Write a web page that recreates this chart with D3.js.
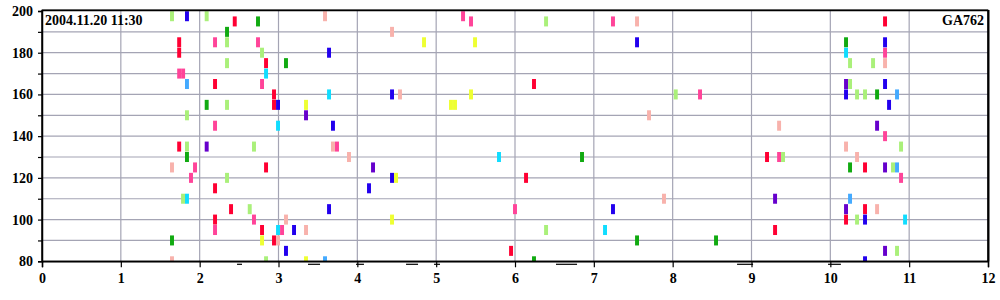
<!DOCTYPE html>
<html>
<head>
<meta charset="utf-8">
<script src="https://cdn.jsdelivr.net/npm/d3@7"></script>
<style>
html,body{margin:0;padding:0;background:#fff;}
svg{display:block;}
.axis text{font-family:"Liberation Serif","Times New Roman",serif;font-weight:bold;font-size:14px;fill:#000;}
</style>
</head>
<body>
<svg id="chart" width="1000" height="300"></svg>
<script>
// ---- data ----
const titleLeft = "2004.11.20 11:30";
const titleRight = "GA762";
const xTicks = [0,1,2,3,4,5,6,7,8,9,10,11,12];
const yTicks = [80,90,100,110,120,130,140,150,160,170,180,190,200];
const yLabels = [80,100,120,140,160,180,200];

const seriesNames = ["red","pink","salmon","lightgreen","green","blue","purple","cyan","skyblue","yellow"];
const seriesColors = ["#ff0033","#ff4499","#f8b2ac","#aaf07a","#11aa11","#2200ee","#6600cc","#11ddff","#44aaff","#eeff33"];

const red = [[1.74,185],[1.74,180],[1.74,135],[2.195,165],[2.195,115],[2.195,100],[2.445,195],[2.398,105],[2.842,175],[2.943,160],[2.943,155],[2.842,125],[2.791,95],[2.943,90],[6.241,165],[6.14,120],[5.95,85],[10.694,195],[9.197,130],[10.44,125],[10.199,100],[10.44,105],[9.299,95]];
const pink = [[1.74,170],[1.79,170],[1.941,125],[1.89,120],[2.195,185],[2.195,145],[2.195,95],[2.74,185],[2.791,165],[3.742,135],[2.689,100],[3.045,95],[5.341,197.5],[5.442,195],[7.243,195],[8.347,160],[6.0,105],[10.694,180],[10.694,140],[9.35,130],[10.897,120]];
const salmon = [[1.649,125],[1.649,80],[3.59,197.5],[4.44,190],[4.541,160],[3.691,135],[3.894,130],[3.095,100],[3.349,95],[2.994,90],[7.548,195],[7.7,150],[7.89,110],[10.694,175],[9.35,145],[10.199,135],[10.339,130],[10.593,105]];
const lightgreen = [[1.649,197.5],[1.839,150],[1.839,135],[1.789,110],[2.089,197.5],[2.347,185],[2.347,175],[2.347,155],[2.347,120],[2.635,105],[2.791,180],[2.689,135],[2.842,80],[6.394,195],[8.039,160],[6.394,95],[10.25,175],[10.542,175],[10.25,165],[10.339,160],[10.44,160],[10.897,135],[9.4,130],[10.795,125],[10.339,100],[10.846,85]];
const green = [[1.649,90],[1.839,130],[2.089,155],[2.347,190],[2.74,195],[3.095,175],[6.85,130],[7.548,90],[8.55,90],[6.241,80],[10.199,185],[10.593,160],[10.25,125]];
const blue = [[1.839,197.5],[2.994,155],[3.641,180],[3.691,145],[4.44,160],[4.44,120],[4.148,115],[3.641,105],[3.197,95],[3.095,85],[7.548,185],[7.243,105],[10.694,185],[10.694,165],[10.199,160],[10.745,155],[10.44,100],[10.44,80]];
const purple = [[2.089,135],[3.349,150],[4.199,125],[10.199,165],[10.593,145],[10.694,125],[9.299,110],[10.199,105],[10.694,85]];
const cyan = [[1.839,110],[2.842,170],[2.994,145],[3.641,160],[2.994,95],[5.797,130],[7.142,95],[10.199,180],[10.948,100]];
const skyblue = [[1.839,165],[3.59,80],[10.846,160],[10.846,125],[10.25,110]];
const yellow = [[3.349,155],[4.846,185],[5.188,155],[5.239,155],[5.442,160],[5.493,185],[4.491,120],[4.44,100],[2.791,90],[3.349,80]];

const dashStarts = [2.474,3.374,3.983,4.618,4.973,6.520,8.817,9.971];
const dashEnds   = [2.537,3.527,4.084,4.770,5.049,6.787,9.020,10.134];

const markW = 0.05;   // x units
const markH = 4.8;    // y units

// ---- chart ----
const svg = d3.select("#chart");
const pL = 42, pR = 988, pT = 11, pB = 261.3;
const x = d3.scaleLinear().domain([0,12]).range([pL,pR]);
const y = d3.scaleLinear().domain([80,200]).range([pB,pT]);

svg.append("defs").append("clipPath").attr("id","plotclip")
  .append("rect").attr("x",pL).attr("y",pT).attr("width",pR-pL).attr("height",pB-pT);

// grid
const grid = svg.append("g");
grid.selectAll("line.gx").data(xTicks.slice(1,-1)).join("line")
  .attr("x1",d=>x(d)).attr("x2",d=>x(d)).attr("y1",pT).attr("y2",pB)
  .attr("stroke","#a4a4b4").attr("stroke-width",1.2);
grid.selectAll("line.gy").data(yTicks.slice(1,-1)).join("line")
  .attr("x1",pL).attr("x2",pR).attr("y1",d=>y(d)).attr("y2",d=>y(d))
  .attr("stroke","#a4a4b4").attr("stroke-width",1.2);

// marks
const allSeries = [red,pink,salmon,lightgreen,green,blue,purple,cyan,skyblue,yellow];
const marks = svg.append("g").attr("clip-path","url(#plotclip)");
allSeries.forEach((s,i)=>{
  marks.append("g").attr("fill",seriesColors[i]).attr("class",seriesNames[i])
    .selectAll("rect").data(s).join("rect")
    .attr("x",d=>x(d[0]-markW/2))
    .attr("y",d=>y(d[1]+markH/2))
    .attr("width",d=>x(d[0]+markW/2)-x(d[0]-markW/2))
    .attr("height",d=>y(d[1]-markH/2)-y(d[1]+markH/2));
});

// frame
svg.append("rect").attr("x",pL).attr("y",pT-0.5).attr("width",pR-pL).attr("height",pB-pT+0.5)
  .attr("fill","none").attr("stroke","#000").attr("stroke-width",1.5);
svg.append("line").attr("x1",pL).attr("x2",pR).attr("y1",pT-0.8).attr("y2",pT-0.8).attr("stroke","#000").attr("stroke-width",1.6);
svg.append("line").attr("x1",pR+0.5).attr("x2",pR+0.5).attr("y1",pT-1).attr("y2",pB).attr("stroke","#000").attr("stroke-width",2);

// axes
const xAxis = d3.axisBottom(x).tickValues(xTicks).tickSize(6).tickPadding(6).tickFormat(d3.format("d"));
const gx = svg.append("g").attr("class","axis").attr("transform",`translate(0,${pB})`).call(xAxis);
gx.select(".domain").attr("stroke","#000").attr("stroke-width",1.5);
gx.selectAll(".tick line").attr("stroke","#000").attr("stroke-width",1.2);

const yAxis = d3.axisLeft(y).tickValues(yTicks).tickSize(4).tickPadding(5)
  .tickFormat(d=> yLabels.includes(d) ? String(d) : "");
const gy = svg.append("g").attr("class","axis").attr("transform",`translate(${pL},0)`).call(yAxis);
gy.select(".domain").attr("stroke","#000").attr("stroke-width",1.5);
gy.selectAll(".tick line").attr("stroke","#000").attr("stroke-width",1.2);

// dashes below axis
svg.append("g").selectAll("line").data(dashStarts).join("line")
  .attr("x1",d=>x(d)).attr("x2",(d,i)=>x(dashEnds[i]))
  .attr("y1",pB+3).attr("y2",pB+3)
  .attr("stroke","#000").attr("stroke-width",1.2);

// titles
svg.append("text").attr("x",pL+3).attr("y",25)
  .attr("font-family","Liberation Serif, serif").attr("font-weight","bold").attr("font-size",14)
  .text(titleLeft);
svg.append("text").attr("x",pR-4).attr("y",25).attr("text-anchor","end")
  .attr("font-family","Liberation Serif, serif").attr("font-weight","bold").attr("font-size",14)
  .text(titleRight);
</script>
</body>
</html>
